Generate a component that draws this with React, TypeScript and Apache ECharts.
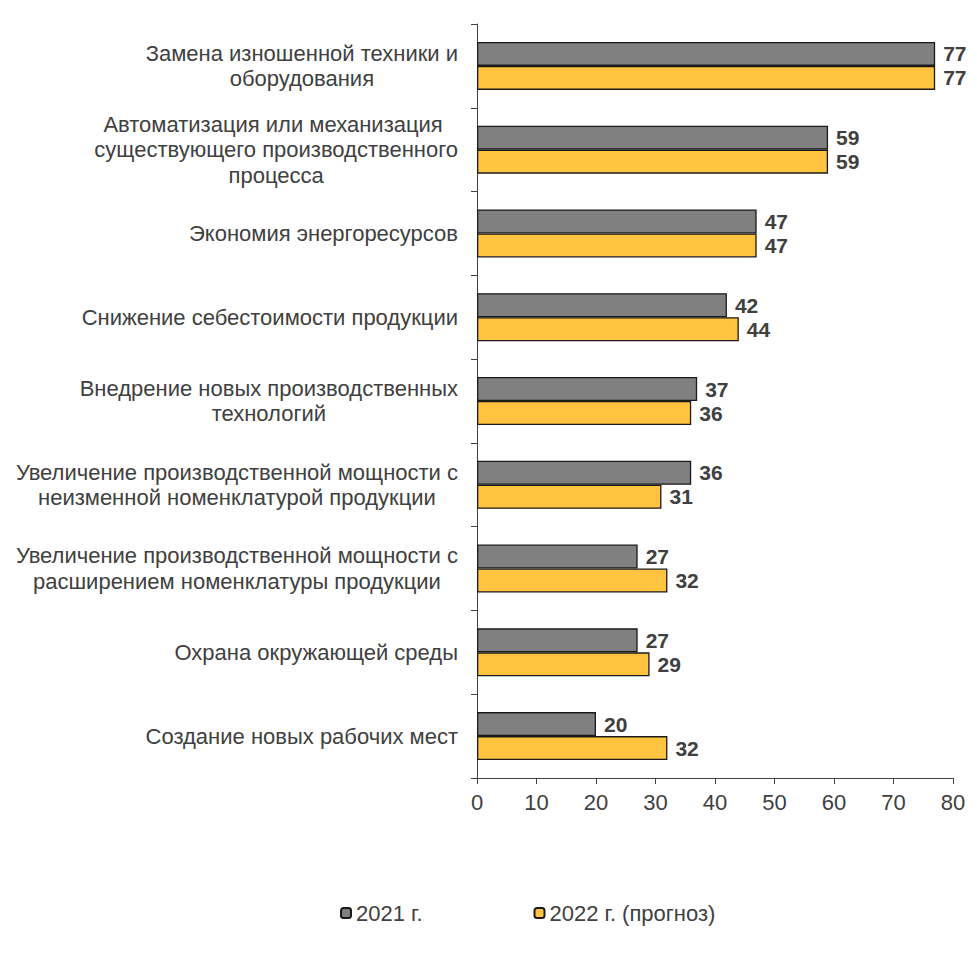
import React, { useEffect, useRef } from "react";
import * as echarts from "echarts";

const categories = [
  "Замена изношенной техники и\nоборудования",
  "Автоматизация или механизация \nсуществующего производственного\nпроцесса",
  "Экономия энергоресурсов",
  "Снижение себестоимости продукции",
  "Внедрение новых производственных\nтехнологий",
  "Увеличение производственной мощности с\nнеизменной номенклатурой продукции",
  "Увеличение производственной мощности с\nрасширением номенклатуры продукции",
  "Охрана окружающей среды",
  "Создание новых рабочих мест",
];
const values2021 = [77, 59, 47, 42, 37, 36, 27, 27, 20];
const values2022 = [77, 59, 47, 44, 36, 31, 32, 29, 32];
const seriesNames = ["2021 г.", "2022 г. (прогноз)"];
const xTicks = { min: 0, max: 80, interval: 10 };

const TEXT = "#404040";
const FONT = "'Liberation Sans', Arial, sans-serif";
const FS = 22;

export default function App() {
  const ref = useRef<HTMLDivElement>(null);
  useEffect(() => {
    if (!ref.current) return;
    const chart = echarts.init(ref.current, null, { renderer: "svg" });
    const labelCfg = {
      show: true,
      position: "right",
      distance: 8,
      fontSize: 21,
      fontWeight: "bold",
      color: TEXT,
      fontFamily: FONT,
    };
    chart.setOption({
      animation: false,
      textStyle: { fontFamily: FONT },
      grid: { left: 477, right: 24, top: 24, bottom: 189, containLabel: false },
      legend: {
        left: 335,
        top: 897,
        itemWidth: 10,
        itemHeight: 10,
        itemGap: 111,
        textStyle: { fontSize: FS, color: TEXT, fontFamily: FONT },
        data: seriesNames,
      },
      xAxis: {
        type: "value",
        min: xTicks.min,
        max: xTicks.max,
        interval: xTicks.interval,
        splitLine: { show: false },
        axisLine: { show: true, lineStyle: { color: TEXT, width: 1 } },
        axisTick: { show: true, length: 6, lineStyle: { color: TEXT } },
        axisLabel: { fontSize: FS, color: TEXT, margin: 13, fontFamily: FONT },
      },
      yAxis: {
        type: "category",
        inverse: true,
        data: categories,
        axisLine: { show: true, lineStyle: { color: TEXT, width: 1 } },
        axisTick: { show: true, length: 6, lineStyle: { color: TEXT } },
        axisLabel: {
          margin: 19,
          align: "right",
          fontFamily: FONT,
          formatter: (v: string) =>
            v
              .split("\n")
              .map((l) => `{c|${l}}`)
              .join("\n"),
          rich: {
            c: { align: "center", fontSize: FS, color: TEXT, lineHeight: 25.5, fontFamily: FONT },
          },
        },
      },
      series: [
        {
          name: seriesNames[0],
          type: "bar",
          data: values2021,
          barWidth: 24,
          barGap: "0%",
          itemStyle: { color: "#808080", borderColor: "#1a1a1a", borderWidth: 1.3 },
          label: labelCfg,
        },
        {
          name: seriesNames[1],
          type: "bar",
          data: values2022,
          barWidth: 24,
          barGap: "0%",
          itemStyle: { color: "#FFC340", borderColor: "#1a1a1a", borderWidth: 1.3 },
          label: labelCfg,
        },
      ],
    });
    return () => chart.dispose();
  }, []);
  return <div ref={ref} style={{ width: 977, height: 967, position: "absolute", left: 0, top: 0 }} />;
}
